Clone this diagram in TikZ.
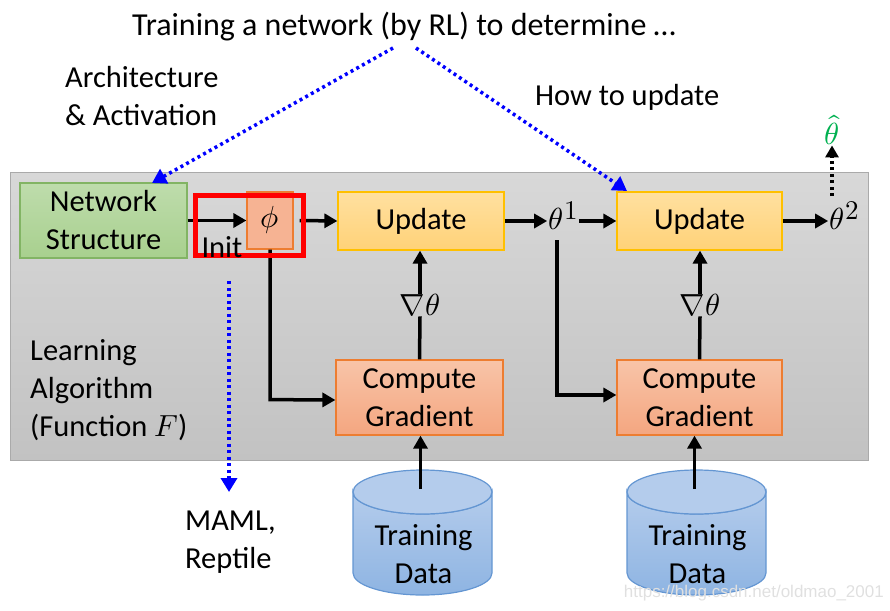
\documentclass[tikz,border=0pt]{standalone}
\usepackage{fontspec}
\usepackage{unicode-math}
\setmainfont{Carlito}
\setmathfont{Latin Modern Math}
\newfontfamily\wmfont{Liberation Sans}
\usetikzlibrary{arrows.meta,calc}
\definecolor{bgtop}{RGB}{216,216,216}
\definecolor{bgbot}{RGB}{194,194,194}
\definecolor{bgline}{RGB}{170,170,170}
\definecolor{grtop}{RGB}{190,220,172}
\definecolor{grbot}{RGB}{168,208,142}
\definecolor{grline}{RGB}{130,180,100}
\definecolor{uptop}{RGB}{255,224,160}
\definecolor{upbot}{RGB}{255,210,120}
\definecolor{upline}{RGB}{255,192,0}
\definecolor{cgtop}{RGB}{248,196,168}
\definecolor{cgbot}{RGB}{244,166,128}
\definecolor{cgline}{RGB}{237,125,49}
\definecolor{cytop}{RGB}{180,204,236}
\definecolor{cybot}{RGB}{142,180,226}
\definecolor{cyline}{RGB}{100,150,210}
\definecolor{thgreen}{RGB}{0,176,80}
\newcommand{\thsup}[1]{$\theta$\kern1pt\raisebox{10pt}{\fontsize{27}{27}\selectfont$\textstyle #1$}}
\begin{document}
\begin{tikzpicture}[x=1pt,y=-1pt,
  font=\fontsize{30.5}{38}\selectfont,
  box/.style={draw, line width=1.2pt, inner sep=0pt, align=center},
  greenbox/.style={box, draw=grline, top color=grtop, bottom color=grbot},
  upbox/.style={box, draw=upline, top color=uptop, bottom color=upbot},
  cgbox/.style={box, draw=cgline, top color=cgtop, bottom color=cgbot},
  arr/.style={line width=3.5pt, -{Triangle[length=13pt,width=14pt]}},
  plainline/.style={line width=3.5pt},
  bdot/.style={draw=blue, line width=3.5pt, dash pattern=on 3pt off 3.5pt, -{Triangle[length=14pt,width=16pt]}},
  kdot/.style={line width=3.5pt, dash pattern=on 3pt off 3.5pt, -{Triangle[length=12pt,width=13pt]}},
  txt/.style={inner sep=0pt, align=left, anchor=west},
  cyl/.style={draw=cyline, line width=1.2pt, top color=cytop, bottom color=cybot}
]
\useasboundingbox (0,0) rectangle (890,610);

% background panel
\node[draw=bgline, line width=1pt, top color=bgtop, bottom color=bgbot, minimum width=858pt, minimum height=288pt, inner sep=0pt] (panel) at (439,316) {};

% top texts
\node[inner sep=0pt, font=\fontsize{32}{38}\selectfont] (title) at (404,27) {Training a network (by RL) to determine …};
\node[txt] (arch) at (65,96.5) {Architecture\\\& Activation};
\node[txt] (how) at (535,97) {How to update};

% boxes
\node[greenbox, minimum width=167pt, minimum height=75pt] (ns) at (103.5,220.5) {Network\\Structure};
\node[box, draw=cgline, fill=cgbot!85!white, minimum width=46pt, minimum height=57pt] (phi) at (270,220.5) {$\phi$};
\node[upbox, minimum width=166pt, minimum height=58pt] (u1) at (421,221) {Update};
\node[upbox, minimum width=165pt, minimum height=58pt] (u2) at (699.5,221) {Update};
\node[cgbox, minimum width=167pt, minimum height=75pt] (cg1) at (419.5,397.5) {Compute\\Gradient};
\node[cgbox, minimum width=165pt, minimum height=75pt] (cg2) at (699.5,397.5) {Compute\\Gradient};

% theta labels
\node[inner sep=1pt] (t1) at (563,216) {\thsup{1}};
\node[inner sep=1pt] (t2) at (844,216) {\thsup{2}};
\node[inner sep=0pt, text=thgreen] (th) at (832,130) {$\hat{\theta}$};
\node[inner sep=0pt] (g1) at (420,305) {$\nabla\theta$};
\node[inner sep=0pt] (g2) at (700,305) {$\nabla\theta$};

% left text
\node[txt] (la) at (30,390) {Learning\\Algorithm\\(Function $F$)};
\node[txt] (maml) at (185,542.5) {MAML,\\Reptile};

% cylinders
\foreach \cx/\nm in {422.5/c1, 696.5/c2}{
  \path[cyl] (\cx-69.5,492) -- (\cx-69.5,573) arc[start angle=180, end angle=360, x radius=69.5pt, y radius=22pt] -- (\cx+69.5,492) arc[start angle=0, end angle=-180, x radius=69.5pt, y radius=22pt] -- cycle;
  \draw[draw=cyline, line width=1.2pt, fill=cytop] (\cx,492) ellipse[x radius=69.5pt, y radius=22pt];
  \node[inner sep=0pt, align=center] (\nm txt) at (\cx+1,554) {Training\\Data};
  \coordinate (\nm top) at (\cx-2,489);
}

% main arrows
\draw[arr] (ns.east) -- (phi.west);
\draw[arr] (phi.east) ++(6,0) coordinate (phiout) (phiout) -- (u1.west);
\draw[arr] (u1.east) -- (u1.east -| t1.west);
\draw[arr] (t1.east |- u2.west) -- (u2.west);
\draw[arr] (u2.east) -- (u2.east -| t2.west);
\coordinate (t2up) at (832,196);
\draw[kdot] (t2up) -- (th.south);

\draw[plainline] (cg1.north) -- (g1.south);
\draw[arr] (g1.north) -- (u1.south -| g1.north);
\draw[plainline] (cg2.north) -- (g2.south);
\draw[arr] (g2.north) -- (u2.south -| g2.north);

\draw[arr] (c1top) -- (c1top |- cg1.south);
\draw[arr] (c2top) -- (c2top |- cg2.south);

\draw[arr] (phi.south) -- ++(0,150) -- (cg1.west |- 0,400);
\coordinate (t1dn) at (557,240);
\draw[arr] (t1dn) -- (557,395) -- (cg2.west |- 0,395);

% red init frame
\node[draw=red, line width=5pt, minimum width=108pt, minimum height=60pt, inner sep=0pt] (initbox) at (249.5,225.5) {};
\node[inner sep=0pt] (init) at (222,247) {Init};

% blue dotted arrows
\coordinate (b1) at (393,48);
\coordinate (b2) at (416,48);
\coordinate (nstop) at (152,183);
\coordinate (u2top) at (627,191);
\coordinate (mtop) at (229,281);
\coordinate (mbot) at (229,492);
\draw[bdot] (b1) -- (nstop);
\draw[bdot] (b2) -- (u2top);
\draw[bdot] (mtop) -- (mbot);

% watermark
\node[inner sep=0pt, anchor=east, text=white!88!black, font=\wmfont\fontsize{17}{20}\selectfont] (wm) at (884,593) {https://blog.csdn.net/oldmao\_2001};
\end{tikzpicture}
\end{document}
